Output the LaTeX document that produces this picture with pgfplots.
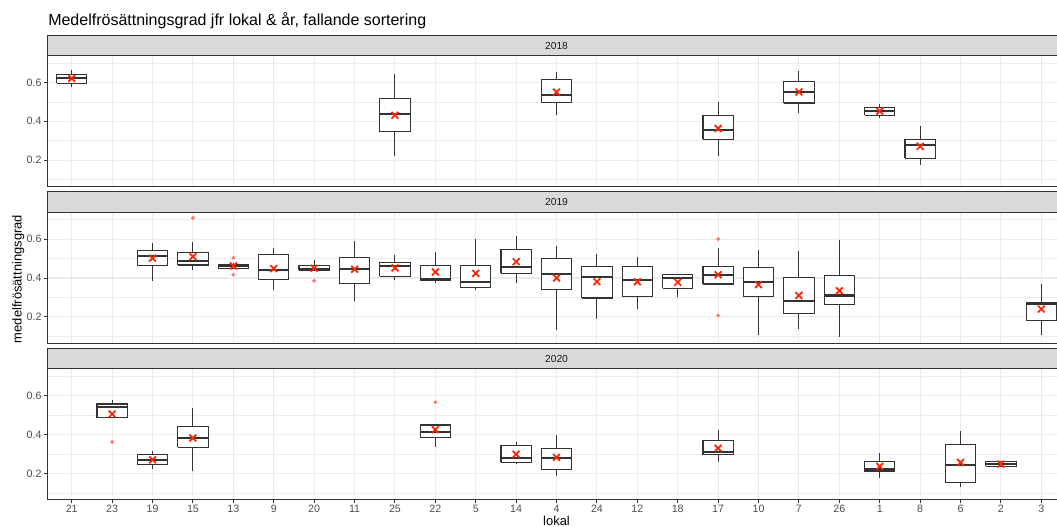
\documentclass[border=0pt]{standalone}
\usepackage{fontspec}
\setmainfont{Liberation Sans}
\usepackage{pgfplots}
\pgfplotsset{compat=1.18}

\definecolor{grey10}{HTML}{1A1A1A}
\definecolor{grey20}{HTML}{333333}
\definecolor{grey30}{HTML}{4D4D4D}
\definecolor{grey85}{HTML}{D9D9D9}
\definecolor{grey92}{HTML}{EBEBEB}
\definecolor{meanred}{HTML}{FF2200}
\definecolor{outpink}{HTML}{FF7878}

\pgfplotsset{
  panel/.style={
    scale only axis, width=763.56pt, height=98.25pt,
    anchor=north west,
    xmin=-0.6, xmax=24.6, ymin=0.065, ymax=0.739,
    xtick={0,...,24},
    ytick={0.2,0.4,0.6}, yticklabels={0.2,0.4,0.6},
    minor ytick={0.1,0.3,0.5,0.7},
    xmajorgrids, ymajorgrids, yminorgrids,
    major grid style={grey92, line width=0.8pt},
    minor grid style={grey92, line width=0.45pt},
    axis line style={grey20, line width=0.7pt},
    tick align=outside, tick pos=left,
    major tick length=2.6pt, minor tick length=0pt,
    tick style={grey20, line width=0.7pt},
    /pgf/number format/assume math mode=true,
    ticklabel style={font=\fontsize{8}{9.6}\selectfont, text=grey30},
    yticklabel style={inner sep=0pt, xshift=-1.7pt},
    xticklabel style={inner sep=0pt, yshift=-0.9pt},
  },
  wh/.style={grey20, line width=0.8pt, mark=none},
  boxs/.style={draw=grey20, fill=white, line width=0.8pt, mark=none, line join=miter},
  meds/.style={grey20, line width=1.6pt, mark=none},
  meanpt/.style={only marks, mark=x, mark size=3.6pt, draw=meanred, line width=1.3pt, mark options={solid}},
  outl/.style={only marks, mark=*, mark size=1.3pt, color=outpink, line width=0.3pt, mark options={solid}},
}

% \bx{x}{x left}{x right}{lower whisker}{lower quartile}{median}{upper quartile}{upper whisker}
\newcommand{\bx}[8]{%
  \addplot[wh] coordinates {(#1,#4) (#1,#8)};
  \addplot[boxs] coordinates {(#2,#5) (#3,#5) (#3,#7) (#2,#7) (#2,#5)};
  \addplot[meds] coordinates {(#2,#6) (#3,#6)};
}

\begin{document}
\begin{tikzpicture}
\useasboundingbox (0,0) rectangle (792.75pt,-395.25pt);

% ---------------- 2018 ----------------
\begin{axis}[panel, at={(35.625pt,-41.55pt)}, xticklabels={}, xtick style={draw=none}]
\bx{0}{-0.375}{0.375}{0.574}{0.595}{0.621}{0.643}{0.666}
\bx{8}{7.625}{8.375}{0.223}{0.346}{0.437}{0.517}{0.643}
\bx{12}{11.625}{12.375}{0.430}{0.496}{0.536}{0.617}{0.656}
\bx{16}{15.625}{16.375}{0.219}{0.308}{0.355}{0.431}{0.501}
\bx{18}{17.625}{18.375}{0.442}{0.494}{0.551}{0.605}{0.659}
\bx{20}{19.625}{20.375}{0.417}{0.431}{0.452}{0.473}{0.487}
\bx{21}{20.625}{21.375}{0.177}{0.210}{0.280}{0.304}{0.377}
\addplot[meanpt] coordinates {(0,0.621) (8,0.431) (12,0.550) (16,0.363) (18,0.551) (20,0.452) (21,0.271)};
\end{axis}

% ---------------- 2019 ----------------
\begin{axis}[panel, at={(35.625pt,-159.08pt)}, xticklabels={}, xtick style={draw=none}]
\bx{2}{1.625}{2.375}{0.384}{0.464}{0.512}{0.540}{0.579}
\bx{3}{2.625}{3.375}{0.443}{0.467}{0.486}{0.533}{0.586}
\bx{4}{3.625}{4.375}{0.447}{0.450}{0.462}{0.471}{0.475}
\bx{5}{4.625}{5.375}{0.336}{0.391}{0.440}{0.522}{0.555}
\bx{6}{5.625}{6.375}{0.437}{0.440}{0.445}{0.464}{0.493}
\bx{7}{6.625}{7.375}{0.281}{0.372}{0.447}{0.507}{0.588}
\bx{8}{7.625}{8.375}{0.388}{0.409}{0.460}{0.478}{0.516}
\bx{9}{8.625}{9.375}{0.376}{0.388}{0.395}{0.464}{0.534}
\bx{10}{9.625}{10.375}{0.336}{0.350}{0.381}{0.466}{0.603}
\bx{11}{10.625}{11.375}{0.376}{0.424}{0.457}{0.548}{0.617}
\bx{12}{11.625}{12.375}{0.134}{0.340}{0.419}{0.502}{0.566}
\bx{13}{12.625}{13.375}{0.191}{0.297}{0.403}{0.460}{0.521}
\bx{14}{13.625}{14.375}{0.240}{0.305}{0.391}{0.457}{0.509}
\bx{15}{14.625}{15.375}{0.303}{0.347}{0.400}{0.416}{0.418}
\bx{16}{15.625}{16.375}{0.362}{0.369}{0.417}{0.459}{0.552}
\bx{17}{16.625}{17.375}{0.109}{0.307}{0.379}{0.455}{0.543}
\bx{18}{17.625}{18.375}{0.138}{0.217}{0.281}{0.402}{0.538}
\bx{19}{18.625}{19.375}{0.096}{0.266}{0.310}{0.412}{0.595}
\bx{24}{23.625}{24.375}{0.109}{0.183}{0.264}{0.276}{0.367}
\addplot[outl] coordinates {(3,0.709) (4,0.503) (4,0.417) (6,0.386) (16,0.600) (16,0.207)};
\addplot[meanpt] coordinates {(2,0.502) (3,0.510) (4,0.462) (5,0.448) (6,0.450) (7,0.445) (8,0.452) (9,0.431) (10,0.424) (11,0.484) (12,0.400) (13,0.381) (14,0.381) (15,0.378) (16,0.417) (17,0.366) (18,0.310) (19,0.334) (24,0.240)};
\end{axis}

% ---------------- 2020 ----------------
\begin{axis}[panel, at={(35.625pt,-276.6pt)},
  xticklabels={21,23,19,15,13,9,20,11,25,22,5,14,4,24,12,18,17,10,7,26,1,8,6,2,3}]
\bx{1}{0.625}{1.375}{0.487}{0.487}{0.543}{0.558}{0.577}
\bx{2}{1.625}{2.375}{0.226}{0.247}{0.271}{0.296}{0.317}
\bx{3}{2.625}{3.375}{0.212}{0.336}{0.383}{0.440}{0.537}
\bx{9}{8.625}{9.375}{0.339}{0.384}{0.416}{0.450}{0.457}
\bx{11}{10.625}{11.375}{0.249}{0.257}{0.282}{0.343}{0.363}
\bx{12}{11.625}{12.375}{0.188}{0.221}{0.278}{0.330}{0.400}
\bx{16}{15.625}{16.375}{0.257}{0.296}{0.310}{0.369}{0.424}
\bx{20}{19.625}{20.375}{0.176}{0.209}{0.221}{0.264}{0.308}
\bx{22}{21.625}{22.375}{0.129}{0.153}{0.242}{0.350}{0.421}
\bx{23}{22.625}{23.375}{0.233}{0.237}{0.249}{0.261}{0.264}
\addplot[outl] coordinates {(1,0.362) (9,0.567)};
\addplot[meanpt] coordinates {(1,0.506) (2,0.271) (3,0.383) (9,0.426) (11,0.299) (12,0.283) (16,0.330) (20,0.237) (22,0.257) (23,0.249)};
\end{axis}

% strips
\foreach \st/\lab in {26.33/2018, 143.85/2019, 261.38/2020}{
  \draw[grey20, line width=0.7pt, fill=grey85] (35.625pt,-\st pt) rectangle (799.19pt,-\st pt-15.22pt);
  \node[font=\fontsize{7.7}{9}\selectfont, text=grey10, inner sep=0pt, anchor=center] at (417.4pt,-\st pt-7.9pt) {\lab};
}

% title and axis titles
\node[anchor=base west, inner sep=0pt, font=\fontsize{12}{14}\selectfont] at (36pt,-19pt) {Medelfrösättningsgrad jfr lokal \& år, fallande sortering};
\node[anchor=base, inner sep=0pt, font=\fontsize{9.7}{11}\selectfont] at (417.4pt,-394.2pt) {lokal};
\node[anchor=base, inner sep=0pt, rotate=90, font=\fontsize{9.7}{11}\selectfont] at (16.2pt,-209.3pt) {medelfrösättningsgrad};
\end{tikzpicture}
\end{document}
